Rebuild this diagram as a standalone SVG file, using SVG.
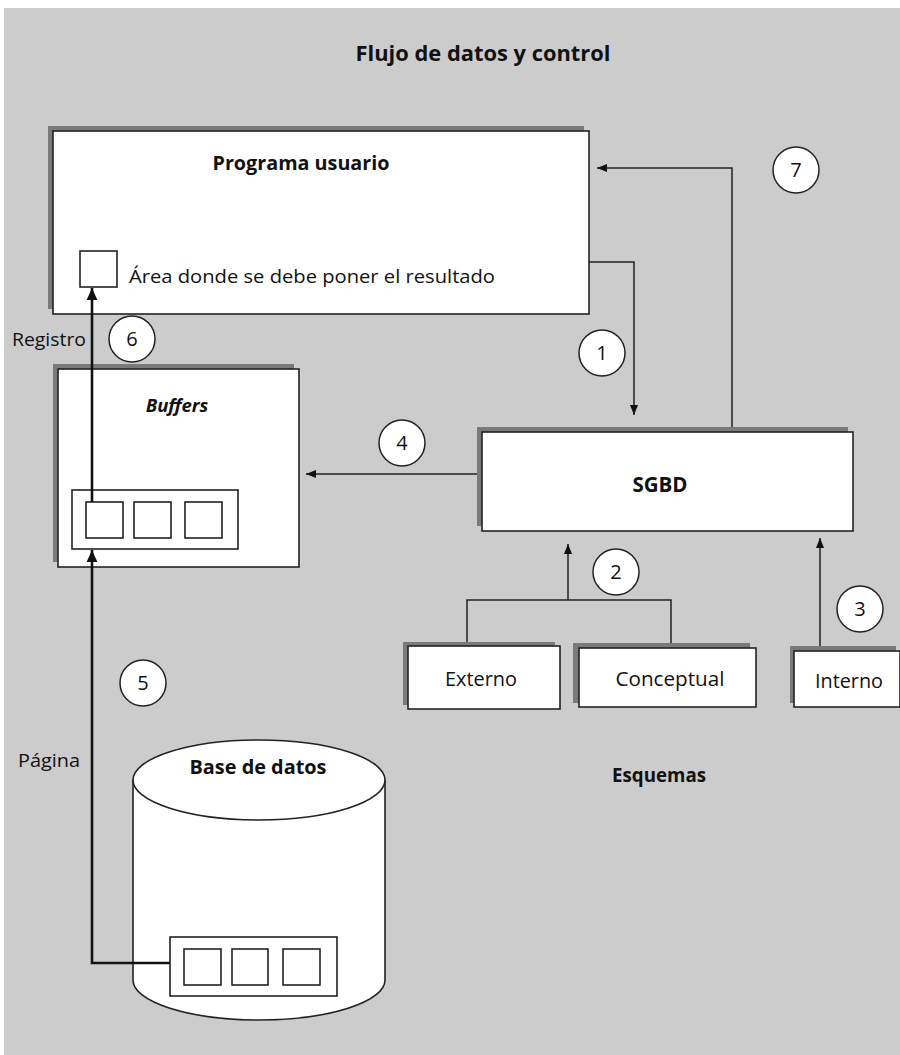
<svg xmlns="http://www.w3.org/2000/svg" width="900" height="1055" viewBox="0 0 900 1055">
<defs>
<style>
.bg{fill:#cccccc}
.sh{fill:#7a7a7a}
.box{fill:#ffffff;stroke:#222;stroke-width:1.6}
.t{font-family:"Open Sans","Noto Sans","Liberation Sans",sans-serif;fill:#111}
.b{font-weight:bold}
.ln{fill:none;stroke:#222;stroke-width:1.5}
.thick{fill:none;stroke:#111;stroke-width:2.6}
.circ{fill:#ffffff;stroke:#222;stroke-width:1.5}
.num{font-size:20px;text-anchor:middle}
</style>
<marker id="ah" viewBox="0 0 10 10" refX="10" refY="5" markerWidth="10" markerHeight="10" markerUnits="userSpaceOnUse" orient="auto">
<path d="M0,1 L10,5 L0,9 Z" fill="#111"/>
</marker>
<marker id="ahT" viewBox="0 0 10 10" refX="10" refY="5" markerWidth="12" markerHeight="12" markerUnits="userSpaceOnUse" orient="auto">
<path d="M0,0.5 L10,5 L0,9.5 Z" fill="#111"/>
</marker>
</defs>
<rect class="bg" x="4" y="8" width="896" height="1047"/>
<text class="t b" x="483" y="61" font-size="21" text-anchor="middle" textLength="255" lengthAdjust="spacingAndGlyphs">Flujo de datos y control</text>

<g id="programa">
<rect class="sh" x="48" y="126" width="536" height="183"/>
<rect class="box" x="53" y="131" width="536" height="183"/>
<text class="t b" x="301" y="170" font-size="19.5" text-anchor="middle" textLength="177" lengthAdjust="spacingAndGlyphs">Programa usuario</text>
<rect class="box" x="80" y="251" width="37" height="36"/>
<text class="t" x="129" y="283" font-size="18.5" textLength="366" lengthAdjust="spacingAndGlyphs">Área donde se debe poner el resultado</text>
</g>

<g id="buffers">
<rect class="sh" x="53" y="364" width="241" height="198"/>
<rect class="box" x="58" y="369" width="241" height="198"/>
<text class="t b" x="177" y="412" font-size="18.5" font-style="italic" text-anchor="middle">Buffers</text>
<rect class="box" x="72" y="490" width="166" height="59"/>
<rect class="box" x="86" y="502" width="37" height="36"/>
<rect class="box" x="134" y="502" width="37" height="36"/>
<rect class="box" x="185" y="502" width="37" height="36"/>
</g>

<g id="sgbd">
<rect class="sh" x="477" y="427" width="371" height="99"/>
<rect class="box" x="482" y="432" width="371" height="99"/>
<text class="t b" x="660" y="492" font-size="20.5" text-anchor="middle">SGBD</text>
</g>

<g id="externo">
<rect class="sh" x="403" y="642" width="152" height="63"/>
<rect class="box" x="408" y="646" width="152" height="63"/>
<text class="t" x="481" y="686" font-size="19.5" text-anchor="middle" textLength="72" lengthAdjust="spacingAndGlyphs">Externo</text>
</g>

<g id="conceptual">
<rect class="sh" x="573" y="643" width="177" height="60"/>
<rect class="box" x="579" y="648" width="177" height="59"/>
<text class="t" x="670" y="686" font-size="19.5" text-anchor="middle" textLength="109" lengthAdjust="spacingAndGlyphs">Conceptual</text>
</g>

<g id="interno">
<rect class="sh" x="790" y="646" width="106" height="57"/>
<rect class="box" x="794" y="651" width="106" height="56"/>
<text class="t" x="849" y="688" font-size="19.5" text-anchor="middle" textLength="68" lengthAdjust="spacingAndGlyphs">Interno</text>
</g>

<g id="basedatos">
<path class="box" d="M133,780 L133,980 A126,40 0 0 0 385,980 L385,780"/>
<ellipse class="box" cx="259" cy="780" rx="126" ry="40"/>
<text class="t b" x="258" y="774" font-size="19.5" text-anchor="middle" textLength="137" lengthAdjust="spacingAndGlyphs">Base de datos</text>
<rect class="box" x="170" y="937" width="167" height="59"/>
<rect class="box" x="184" y="949" width="37" height="36"/>
<rect class="box" x="232" y="949" width="36" height="36"/>
<rect class="box" x="283" y="949" width="37" height="36"/>
</g>

<g id="connectors">
<polyline class="ln" points="589,262 634,262 634,415" marker-end="url(#ah)"/>
<polyline class="ln" points="732,427 732,168 597,168" marker-end="url(#ah)"/>
<line class="ln" x1="477" y1="474" x2="306" y2="474" marker-end="url(#ah)"/>
<polyline class="ln" points="467,642 467,600 671,600 671,643"/>
<line class="ln" x1="568" y1="600" x2="568" y2="544" marker-end="url(#ah)"/>
<line class="ln" x1="820" y1="646" x2="820" y2="538" marker-end="url(#ah)"/>
<line class="thick" x1="92" y1="502" x2="92" y2="288" marker-end="url(#ahT)"/>
<polyline class="thick" points="170,963 92,963 92,550" marker-end="url(#ahT)"/>
</g>

<g id="labels">
<circle class="circ" cx="602" cy="353" r="23"/>
<text class="t num" x="602" y="360">1</text>
<circle class="circ" cx="616" cy="572" r="23"/>
<text class="t num" x="616" y="579">2</text>
<circle class="circ" cx="860" cy="609" r="23"/>
<text class="t num" x="860" y="616">3</text>
<circle class="circ" cx="402" cy="443" r="23"/>
<text class="t num" x="402" y="450">4</text>
<circle class="circ" cx="143" cy="683" r="23"/>
<text class="t num" x="143" y="690">5</text>
<circle class="circ" cx="132" cy="339" r="23"/>
<text class="t num" x="132" y="346">6</text>
<circle class="circ" cx="796" cy="170" r="23"/>
<text class="t num" x="796" y="177">7</text>
<text class="t" x="86" y="346" font-size="19" text-anchor="end" textLength="74" lengthAdjust="spacingAndGlyphs">Registro</text>
<text class="t" x="18" y="767" font-size="19" textLength="62" lengthAdjust="spacingAndGlyphs">Página</text>
<text class="t b" x="659" y="782" font-size="19" text-anchor="middle" textLength="94" lengthAdjust="spacingAndGlyphs">Esquemas</text>
</g>
</svg>
